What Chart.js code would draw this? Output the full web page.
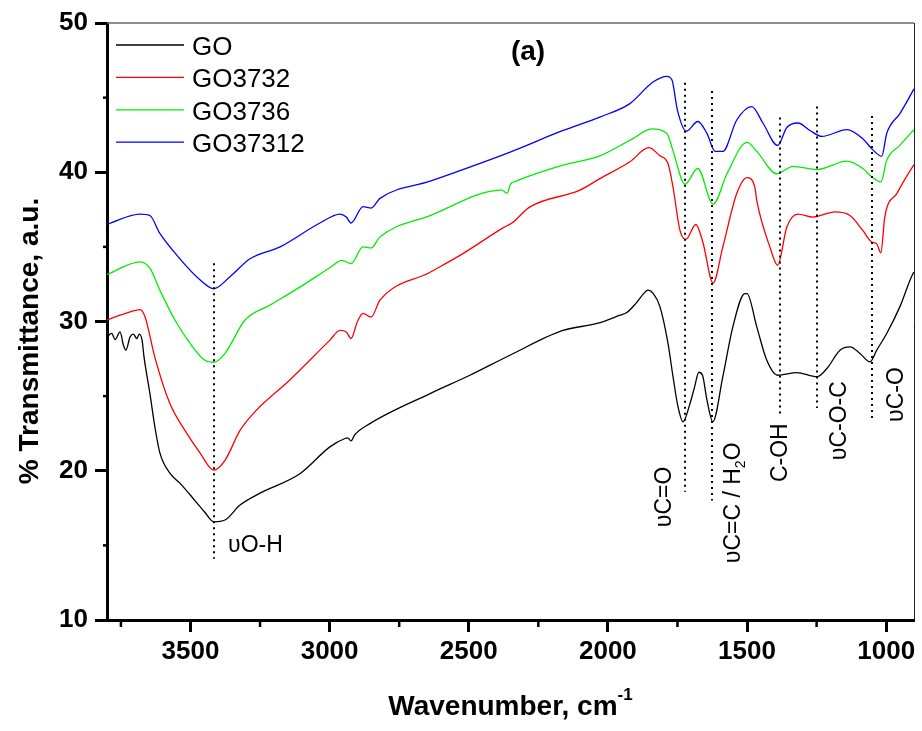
<!DOCTYPE html>
<html><head><meta charset="utf-8">
<script src="https://cdn.jsdelivr.net/npm/chart.js@4/dist/chart.umd.min.js"></script>
<style>html,body{margin:0;padding:0;background:#fff;}canvas{display:block;}</style>
</head><body>
<canvas id="c" width="922" height="731"></canvas>
<script>
// ---------------- data ----------------
const seriesNames = ['GO', 'GO3732', 'GO3736', 'GO37312'];

const goWave = [3800,3783,3771,3753,3741,3732,3717,3705,3693,3684,3674,3667,3646,3628,3610,3574,3538,3484,3450,3416,3376,3322,3250,3107,2999,2945,2935,2923,2910,2855,2639,2496,2352,2162,2039,1957,1932,1900,1870,1856,1838,1813,1784,1766,1748,1730,1705,1690,1673,1660,1644,1623,1587,1551,1508,1500,1465,1429,1390,1321,1249,1213,1166,1130,1094,1058,1034,998,951,904,900];
const goT    = [28.97,29.2,28.79,29.3,28.41,28.08,28.97,29.15,28.86,29.15,28.75,27.63,25.2,22.94,21.2,19.84,19.17,18.0,17.25,16.58,16.7,17.7,18.5,19.8,21.6,22.16,22.2,22.0,22.4,23.16,25.17,26.4,27.74,29.4,29.87,30.42,30.6,31.2,31.9,32.1,31.9,31.0,28.53,26.3,24.28,23.28,24.5,25.5,26.6,26.4,24.73,23.28,26.3,29.64,31.87,31.87,29.64,27.4,26.4,26.58,26.3,26.85,28.08,28.3,27.86,27.3,28.08,29.2,30.98,33.2,33.3];

const go3732Wave = [3800,3753,3717,3681,3663,3628,3574,3520,3466,3416,3376,3322,3268,3142,2999,2963,2940,2923,2900,2880,2851,2819,2639,2521,2377,2345,2280,2101,2029,1921,1853,1813,1784,1766,1741,1720,1684,1659,1622,1587,1537,1500,1472,1465,1418,1390,1357,1317,1263,1184,1130,1084,1052,1034,1019,1005,962,904,900];
const go3732T    = [30.1,30.42,30.65,30.8,30.3,27.6,24.5,22.7,21.2,20.04,20.7,22.7,23.96,26.1,28.75,29.4,29.3,28.86,30.0,30.54,30.3,31.43,33.3,34.55,36.27,36.6,37.68,38.8,39.57,40.7,41.65,41.1,40.58,39.0,36.1,35.5,36.5,35.33,32.58,35.0,38.57,39.64,39.0,38.1,35.0,33.77,36.33,37.2,37.0,37.34,37.1,36.1,35.33,35.2,34.6,37.0,38.57,40.4,40.5];

const go3736Wave = [3800,3681,3646,3610,3556,3502,3448,3416,3376,3304,3214,3107,2999,2956,2923,2880,2851,2819,2639,2381,2362,2350,2330,2162,2029,1915,1842,1788,1767,1723,1677,1622,1572,1500,1465,1393,1335,1249,1141,1084,1052,1019,998,951,904,900];
const go3736T    = [33.15,34.0,33.57,32.1,30.1,28.55,27.4,27.27,27.87,30.1,31.1,32.3,33.6,34.1,33.88,35.0,34.93,35.67,37.1,38.8,38.6,39.2,39.4,40.47,41.1,42.2,42.9,42.6,41.5,39.2,40.25,37.86,39.9,42.0,41.4,39.9,40.4,40.18,40.74,40.25,39.7,39.35,40.8,41.8,42.77,42.85];

const go37312Wave = [3800,3681,3646,3610,3538,3466,3416,3358,3286,3178,3035,2963,2940,2923,2880,2851,2819,2639,2363,2161,2029,1921,1838,1788,1770,1750,1718,1677,1644,1615,1587,1537,1483,1443,1390,1357,1317,1274,1231,1141,1084,1048,1016,998,950,904,900];
const go37312T    = [36.52,37.2,37.1,35.9,34.2,32.8,32.2,33.0,34.2,35.0,36.6,37.2,37.0,36.6,37.7,37.6,38.25,39.4,41.27,42.8,43.7,44.6,46.05,46.43,46.2,44.15,42.75,43.4,42.6,41.4,41.4,43.5,44.4,43.3,41.8,43.0,43.3,42.8,42.4,42.86,42.25,41.5,41.07,42.6,43.95,45.45,45.6];

const xMajorTicks = [3500, 3000, 2500, 2000, 1500, 1000];
const xMinorTicks = [3750, 3250, 2750, 2250, 1750, 1250];
const yMajorTicks = [10, 20, 30, 40, 50];
const yMinorTicks = [15, 25, 35, 45];

// peak assignments: name, wavenumber, dotted line from / to (transmittance)
const peakNames    = ['υO-H', 'υC=O', 'υC=C / H_2O', 'C-OH', 'υC-O-C', 'υC-O'];
const peakWave     = [3415, 1724, 1625, 1383, 1249, 1050];
const peakLineLow  = [14.1, 18.6, 18.0, 23.7, 24.2, 23.5];
const peakLineHigh = [33.9, 46.0, 45.45, 43.66, 44.4, 43.77];

// ---------------- drawing ----------------
const FONT = "'Liberation Sans', Arial, Helvetica, sans-serif";
const colors = ['#000000', '#ff0000', '#00ee00', '#0000ff'];
const waves = [goWave, go3732Wave, go3736Wave, go37312Wave];
const vals  = [goT, go3732T, go3736T, go37312T];

// label anchor points (in data units) for each peak label
const labelAnchor = [[3365, 14.55], [1773, 16.22], [1526, 13.81], [1357, 19.24], [1145, 20.71], [940, 23.27]];

function drawRich(ctx, text, size) {
  let xpos = 0;
  const parts = text.split(/(_.)/);
  parts.forEach(p => {
    if (!p) return;
    if (p[0] === '_') {
      ctx.font = `${Math.round(size*0.62)}px ${FONT}`;
      ctx.fillText(p[1], xpos, size*0.22);
      xpos += ctx.measureText(p[1]).width;
    } else {
      ctx.font = `${size}px ${FONT}`;
      ctx.fillText(p, xpos, 0);
      xpos += ctx.measureText(p).width;
    }
  });
}

const deco = {
  id: 'deco',
  afterDraw(chart) {
    const {ctx, chartArea: a} = chart;
    const xs = chart.scales.x, ys = chart.scales.y;
    ctx.save();
    ctx.strokeStyle = '#6a6a6a'; ctx.lineWidth = 1.5;
    ctx.beginPath(); ctx.moveTo(a.left, a.top); ctx.lineTo(a.right, a.top); ctx.stroke();
    ctx.strokeStyle = '#222'; ctx.lineWidth = 1;
    ctx.beginPath(); ctx.moveTo(a.right + 0.5, a.top); ctx.lineTo(a.right + 0.5, a.bottom); ctx.stroke();
    ctx.strokeStyle = '#000'; ctx.lineWidth = 2.5;
    xMinorTicks.forEach(v => {
      const px = xs.getPixelForValue(v);
      ctx.beginPath(); ctx.moveTo(px, a.bottom); ctx.lineTo(px, a.bottom + 7); ctx.stroke();
    });
    yMinorTicks.forEach(v => {
      const py = ys.getPixelForValue(v);
      ctx.beginPath(); ctx.moveTo(a.left - 4, py); ctx.lineTo(a.left, py); ctx.stroke();
    });
    ctx.strokeStyle = '#000'; ctx.lineWidth = 2; ctx.setLineDash([2, 4]);
    peakWave.forEach((w, i) => {
      const px = Math.round(xs.getPixelForValue(w));
      ctx.beginPath();
      ctx.moveTo(px, ys.getPixelForValue(peakLineHigh[i]));
      ctx.lineTo(px, ys.getPixelForValue(peakLineLow[i]));
      ctx.stroke();
    });
    ctx.setLineDash([]);
    ctx.fillStyle = '#000'; ctx.textBaseline = 'alphabetic'; ctx.textAlign = 'left';
    peakNames.forEach((t, i) => {
      const px = xs.getPixelForValue(labelAnchor[i][0]);
      const py = ys.getPixelForValue(labelAnchor[i][1]);
      ctx.save();
      ctx.translate(px, py);
      if (i > 0) ctx.rotate(-Math.PI / 2);
      drawRich(ctx, t, 23);
      ctx.restore();
    });
    ctx.font = `bold 28px ${FONT}`; ctx.textAlign = 'center';
    ctx.fillText('(a)', 528, 60);
    ctx.textAlign = 'left';
    ctx.font = `26px ${FONT}`;
    chart.data.datasets.forEach((ds, i) => {
      const ly = 45 + i * 32.4;
      ctx.strokeStyle = ds.borderColor; ctx.lineWidth = 1.3;
      ctx.beginPath(); ctx.moveTo(a.left + 9, ly); ctx.lineTo(a.left + 77, ly); ctx.stroke();
      ctx.fillStyle = '#000';
      ctx.fillText(ds.label, a.left + 85, ly + 10);
    });
    ctx.font = `bold 28px ${FONT}`;
    const main = 'Wavenumber, cm';
    const wMain = ctx.measureText(main).width;
    ctx.font = `bold 17px ${FONT}`;
    const wSup = ctx.measureText('-1').width;
    const x0 = (a.left + a.right) / 2 - (wMain + wSup) / 2;
    ctx.font = `bold 28px ${FONT}`;
    ctx.fillText(main, x0, 715);
    ctx.font = `bold 17px ${FONT}`;
    ctx.fillText('-1', x0 + wMain, 700);
    ctx.save();
    ctx.translate(38, 341);
    ctx.rotate(-Math.PI / 2);
    ctx.textAlign = 'center';
    ctx.font = `bold 28px ${FONT}`;
    ctx.fillText('% Transmittance, a.u.', 0, 0);
    ctx.restore();
    ctx.restore();
  }
};

new Chart(document.getElementById('c'), {
  type: 'line',
  data: {
    datasets: seriesNames.map((n, i) => ({
      label: n,
      data: waves[i].map((w, j) => ({x: w, y: vals[i][j]})),
      borderColor: colors[i],
      borderWidth: 1.3,
      pointRadius: 0,
      cubicInterpolationMode: 'monotone',
      fill: false
    }))
  },
  options: {
    responsive: false,
    animation: false,
    devicePixelRatio: 1,
    layout: {padding: {top: 23, right: 8, left: 0, bottom: 0}},
    plugins: {legend: {display: false}, tooltip: {enabled: false}},
    scales: {
      x: {
        type: 'linear', reverse: true, min: 900, max: 3800,
        afterBuildTicks: s => { s.ticks = xMajorTicks.map(v => ({value: v})); },
        afterFit: s => { s.height = 111; },
        border: {color: '#000', width: 3},
        grid: {drawOnChartArea: false, tickLength: 12, tickWidth: 3, tickColor: '#000'},
        ticks: {color: '#000', font: {family: FONT, size: 26, weight: 'bold'}, padding: 4, maxRotation: 0,
                callback: v => String(v)}
      },
      y: {
        type: 'linear', min: 10, max: 50,
        afterBuildTicks: s => { s.ticks = yMajorTicks.map(v => ({value: v})); },
        afterFit: s => { s.width = 107; },
        border: {color: '#000', width: 3},
        grid: {drawOnChartArea: false, tickLength: 12, tickWidth: 3, tickColor: '#000'},
        ticks: {color: '#000', font: {family: FONT, size: 26, weight: 'bold'}, padding: 7,
                callback: v => String(v)}
      }
    }
  },
  plugins: [deco]
});
</script>
</body></html>
